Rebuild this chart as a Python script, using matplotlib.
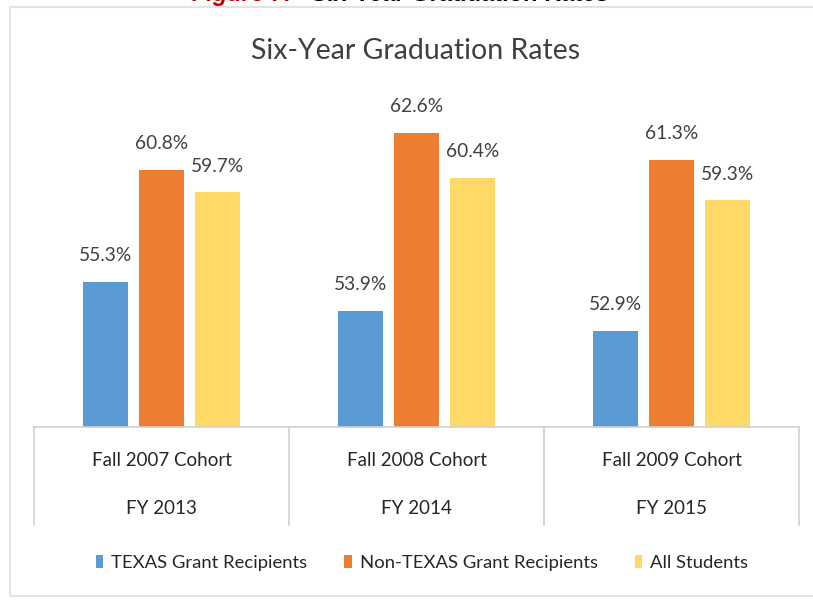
import matplotlib
matplotlib.use("Agg")
import matplotlib.pyplot as plt
from matplotlib.patches import Patch, Rectangle
import numpy as np

# ---- data ----
cohorts = ["Fall 2007 Cohort", "Fall 2008 Cohort", "Fall 2009 Cohort"]
fiscal_years = ["FY 2013", "FY 2014", "FY 2015"]
series_names = ["TEXAS Grant Recipients", "Non-TEXAS Grant Recipients", "All Students"]
texas_grant = [55.3, 53.9, 52.9]
non_texas_grant = [60.8, 62.6, 61.3]
all_students = [59.7, 60.4, 59.3]

colors = ["#5B9BD5", "#ED7D31", "#FFD966"]
FONT = ["Lato", "DejaVu Sans"]
plt.rcParams["font.family"] = FONT

W, H = 813, 600
fig = plt.figure(figsize=(W / 100, H / 100), dpi=100)

# axes placement (pixels)
x0, x1 = 34, 799
y_top, y_base = 95, 427
ax = fig.add_axes([x0 / W, 1 - y_base / H, (x1 - x0) / W, (y_base - y_top) / H])

x = np.arange(len(cohorts))
width = 0.176
offsets = [-0.22, 0.0, 0.22]
series = [texas_grant, non_texas_grant, all_students]
for vals, off, col in zip(series, offsets, colors):
    bars = ax.bar(x + off, vals, width, color=col, zorder=2)
    for b, v in zip(bars, vals):
        ax.annotate(f"{v:.1f}%", (b.get_x() + b.get_width() / 2, v),
                    xytext=(0, 15), textcoords="offset points",
                    ha="center", va="baseline", fontsize=13.8, color="#404040")

ax.set_xlim(-0.5, 2.5)
ax.set_ylim(48.2, 64.47)
ax.set_xticks([])
ax.set_yticks([])
for s in ["top", "left", "right"]:
    ax.spines[s].set_visible(False)
ax.spines["bottom"].set_color("#D0D0D0")
ax.spines["bottom"].set_linewidth(1.2)

# category table
tb = ax.get_xaxis_transform()
y_bot_ax = -(525 - y_base) / (y_base - y_top)
for xv in [-0.5, 0.5, 1.5, 2.5]:
    ax.plot([xv, xv], [0, y_bot_ax], transform=tb, color="#D0D0D0", lw=1.2, clip_on=False)
y_c = -(461 - y_base) / (y_base - y_top)
y_f = -(508 - y_base) / (y_base - y_top)
for i in range(len(cohorts)):
    ax.text(i, y_c, cohorts[i], transform=tb, ha="center", va="center", fontsize=13.5, color="#262626")
    ax.text(i, y_f, fiscal_years[i], transform=tb, ha="center", va="center", fontsize=13.5, color="#262626")

# chart title
fig.text(416 / W, 1 - 51 / H, "Six-Year Graduation Rates", ha="center", va="center",
         fontsize=20.5, color="#404040")

# legend
handles = [Patch(facecolor=c, edgecolor="none") for c in colors]
fig.legend(handles, series_names, loc="center", bbox_to_anchor=(422 / W, 1 - 563 / H),
           ncol=3, frameon=False, fontsize=13.3, handlelength=0.4, handleheight=0.7,
           handletextpad=0.43, columnspacing=2.0, labelcolor="#262626")

# outer border of the embedded chart
fig.add_artist(Rectangle((10 / W, 1 - 596 / H), (830 - 10) / W, (596 - 7) / H,
                         transform=fig.transFigure, fill=False, edgecolor="#E3E3E3", lw=1.5))

# cut-off document caption at the top
fig.text(292 / W, 1 - 1 / H, "Figure 7:", ha="right", va="baseline", fontsize=17,
         fontweight="bold", fontstyle="italic", color="#C00000", family="Liberation Sans")
fig.text(311 / W, 1 - 1 / H, "Six-Year Graduation Rates", ha="left", va="baseline", fontsize=17,
         fontweight="bold", color="black", family="Liberation Sans")

fig.savefig("out.png", dpi=100)
